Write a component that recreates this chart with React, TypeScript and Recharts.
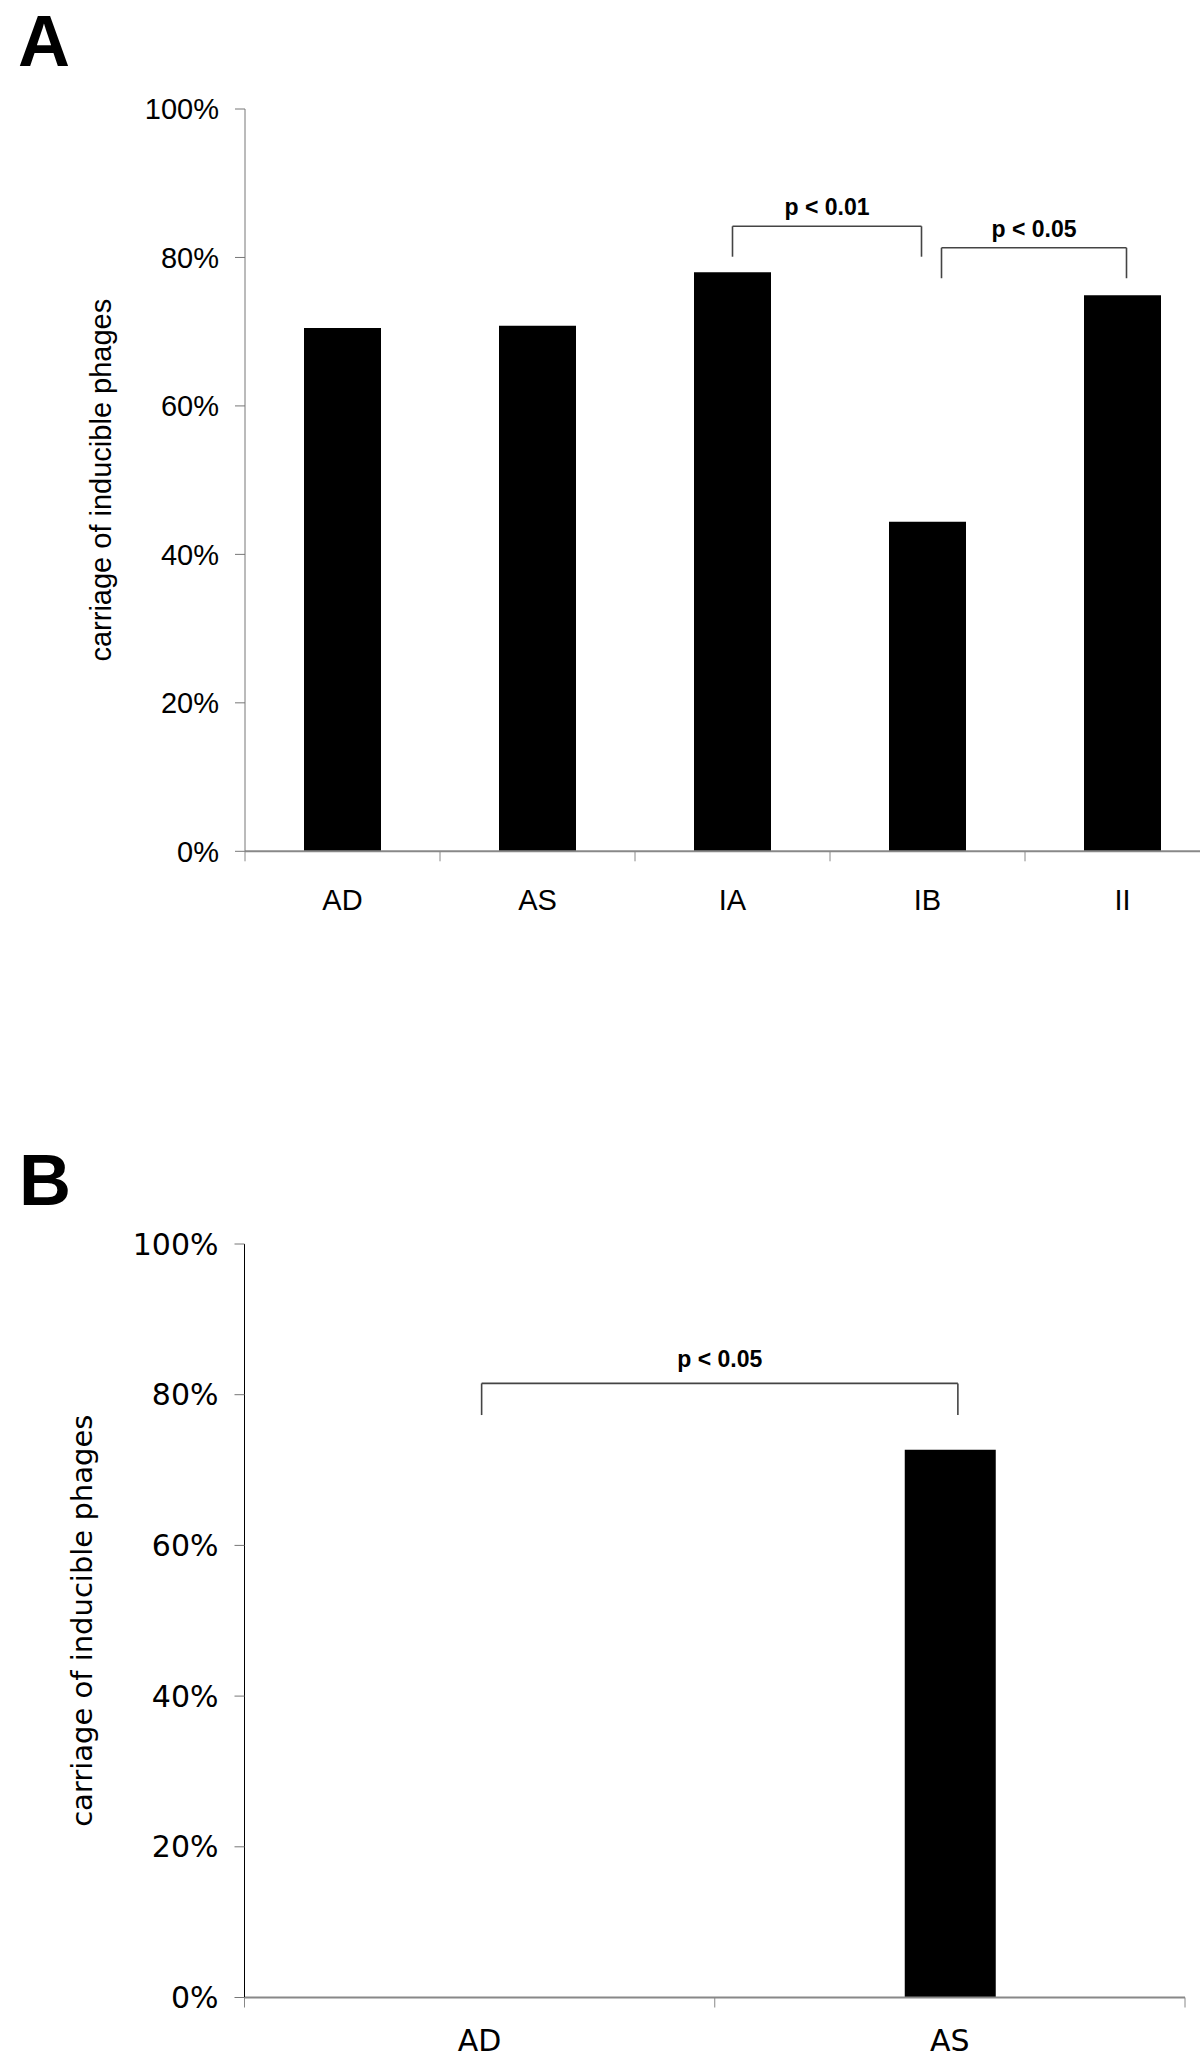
import React from "react";
import { BarChart, Bar, XAxis, YAxis, ReferenceLine } from "recharts";

// panel A
const groupsA = ["AD", "AS", "IA", "IB", "II"];
const carriageA = [70.5, 70.8, 78.0, 44.4, 74.9];
const bracketsA = [
  { from: "IA", to: "IB", top: 84.2, bottom: 80.1, text: "p < 0.01" },
  { from: "IB", to: "II", top: 81.3, bottom: 77.2, text: "p < 0.05" },
];

// panel B
const groupsB = ["AD", "AS"];
const carriageB = [0, 72.7];
const bracketsB = [{ from: "AD", to: "AS", top: 81.5, bottom: 77.3, text: "p < 0.05" }];

const yTicks = [0, 20, 40, 60, 80, 100];
const yTitle = "carriage of inducible phages";

const ARIAL = "'Liberation Sans', Arial, sans-serif";
const DEJAVU = "'DejaVu Sans', Verdana, sans-serif";

const cfgA = {
  top: 0,
  width: 1240,
  height: 960,
  margin: { top: 109, right: 20, bottom: 48.7, left: 0 },
  xAxisHeight: 60,
  yAxisWidth: 245,
  barSize: 77,
  font: ARIAL,
  tickFont: 29,
  xTickMargin: 38,
  yAxisColor: "#777",
  titleX: 101,
  pOffset: 11,
  // sideways nudges in px so neighbouring brackets don't touch
  nudges: [
    [0, -6],
    [14, 4],
  ],
};

const cfgB = {
  top: 1100,
  width: 1200,
  height: 968,
  margin: { top: 144, right: 15, bottom: 10.5, left: 0 },
  xAxisHeight: 60,
  yAxisWidth: 244.5,
  barSize: 91,
  font: DEJAVU,
  tickFont: 30,
  xTickMargin: 32,
  yAxisColor: "#000",
  titleX: 82,
  pOffset: 16,
  nudges: [[2, 8]],
};

function CatTick({ x, y, payload, index, cfg, count }: any) {
  const plotW = cfg.width - cfg.margin.right - cfg.yAxisWidth;
  const half = payload?.offset ?? plotW / count / 2;
  const axisY = y - cfg.xTickMargin;
  return (
    <g>
      <line x1={x - half} x2={x - half} y1={axisY} y2={axisY + 10} stroke="#888" />
      {index === count - 1 && <line x1={x + half} x2={x + half} y1={axisY} y2={axisY + 10} stroke="#888" />}
      <text x={x} y={y} dy="0.71em" textAnchor="middle" fontSize={cfg.tickFont} fontFamily={cfg.font} fill="#000">
        {payload.value}
      </text>
    </g>
  );
}

function Panel({ cats, values, brackets, cfg }: any) {
  const data = cats.map((name: string, i: number) => ({ name, value: values[i] }));
  const plotH = cfg.height - cfg.margin.top - cfg.margin.bottom - cfg.xAxisHeight;
  const cy = cfg.margin.top + plotH / 2;
  const stroke = "#444";
  const sw = 1.6;

  return (
    <div style={{ position: "absolute", left: 0, top: cfg.top }}>
      <BarChart width={cfg.width} height={cfg.height} data={data} margin={cfg.margin} barSize={cfg.barSize}>
        <XAxis
          dataKey="name"
          type="category"
          height={cfg.xAxisHeight}
          interval={0}
          axisLine={{ stroke: "#888", strokeWidth: 2 }}
          tickLine={false}
          tickSize={0}
          tickMargin={cfg.xTickMargin}
          tick={(p: any) => <CatTick {...p} cfg={cfg} count={cats.length} />}
        />
        <YAxis
          width={cfg.yAxisWidth}
          domain={[0, 100]}
          ticks={yTicks}
          allowDataOverflow
          tickFormatter={(v: number) => `${v}%`}
          tickSize={10}
          tickMargin={16}
          axisLine={{ stroke: cfg.yAxisColor }}
          tickLine={{ stroke: "#777" }}
          tick={{ fill: "#000", fontSize: cfg.tickFont, fontFamily: cfg.font }}
          label={() => (
            <text
              x={cfg.titleX}
              y={cy}
              transform={`rotate(-90, ${cfg.titleX}, ${cy})`}
              textAnchor="middle"
              dominantBaseline="central"
              fontSize={29}
              fontFamily={cfg.font}
              fill="#000"
            >
              {yTitle}
            </text>
          )}
        />
        <Bar dataKey="value" fill="#000" isAnimationActive={false} />
        {brackets.map((b: any, i: number) => {
          const [n1, n2] = cfg.nudges[i];
          return [
            <ReferenceLine
              key={`t${i}`}
              ifOverflow="visible"
              segment={[{ x: b.from, y: b.top }, { x: b.to, y: b.top }]}
              shape={(p: any) => (
                <g>
                  <line x1={p.x1 + n1} x2={p.x2 + n2} y1={p.y1} y2={p.y2} stroke={stroke} strokeWidth={sw} />
                  <text
                    x={(p.x1 + n1 + p.x2 + n2) / 2}
                    y={p.y1 - cfg.pOffset}
                    textAnchor="middle"
                    fontSize={23}
                    fontWeight={700}
                    fontFamily={ARIAL}
                    fill="#000"
                  >
                    {b.text}
                  </text>
                </g>
              )}
            />,
            <ReferenceLine
              key={`l${i}`}
              ifOverflow="visible"
              segment={[{ x: b.from, y: b.top }, { x: b.from, y: b.bottom }]}
              shape={(p: any) => (
                <line x1={p.x1 + n1} x2={p.x2 + n1} y1={p.y1} y2={p.y2} stroke={stroke} strokeWidth={sw} />
              )}
            />,
            <ReferenceLine
              key={`r${i}`}
              ifOverflow="visible"
              segment={[{ x: b.to, y: b.top }, { x: b.to, y: b.bottom }]}
              shape={(p: any) => (
                <line x1={p.x1 + n2} x2={p.x2 + n2} y1={p.y1} y2={p.y2} stroke={stroke} strokeWidth={sw} />
              )}
            />,
          ];
        })}
      </BarChart>
    </div>
  );
}

export default function App() {
  return (
    <div
      style={{
        position: "absolute",
        left: 0,
        top: 0,
        width: 1200,
        height: 2068,
        overflow: "hidden",
        background: "#fff",
      }}
    >
      <Panel cats={groupsA} values={carriageA} brackets={bracketsA} cfg={cfgA} />
      <Panel cats={groupsB} values={carriageB} brackets={bracketsB} cfg={cfgB} />
      <svg width={1200} height={2068} style={{ position: "absolute", left: 0, top: 0, pointerEvents: "none" }}>
        <text x={18} y={66} fontSize={72} fontWeight={700} fontFamily={ARIAL}>
          A
        </text>
        <text x={19} y={1205} fontSize={72} fontWeight={700} fontFamily={ARIAL}>
          B
        </text>
      </svg>
    </div>
  );
}
